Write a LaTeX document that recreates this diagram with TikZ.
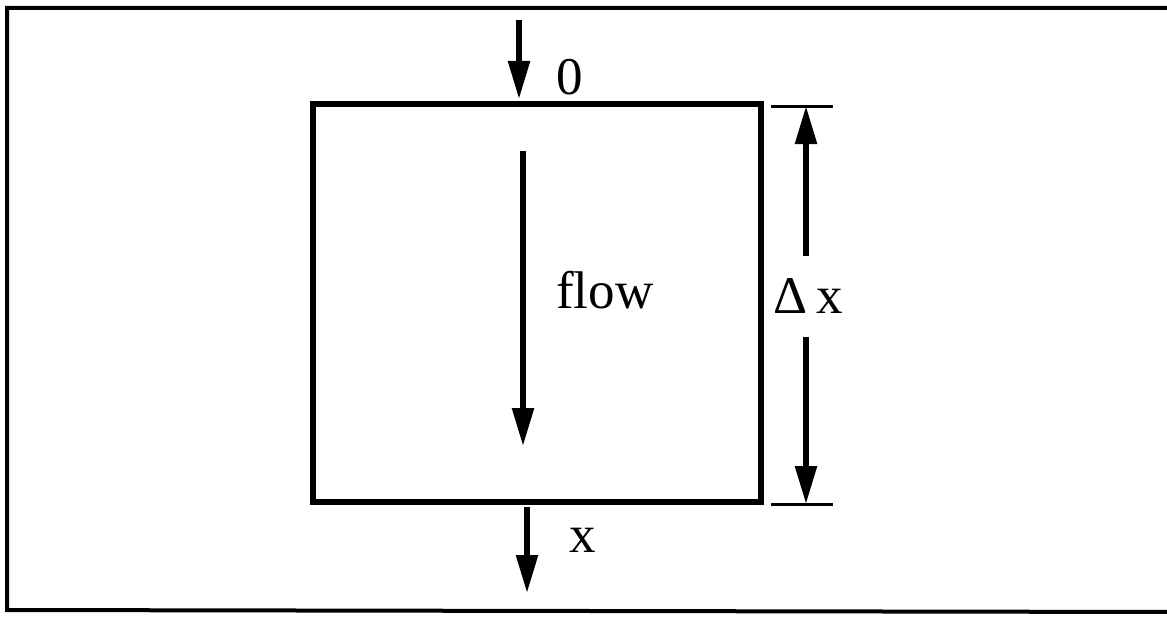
\documentclass[tikz,border=0pt]{standalone}
\usepackage{fontspec}
\setmainfont{Liberation Serif}
\usetikzlibrary{arrows.meta}
\tikzset{
  bigarrow/.style={line width=5.5pt,-{Triangle[length=38pt,width=21pt]}},
  frameline/.style={line width=4pt},
  boxline/.style={line width=5.5pt},
  tickline/.style={line width=3pt},
  lbl/.style={inner sep=0pt,font=\fontsize{53}{56}\selectfont}
}
\begin{document}
\begin{tikzpicture}[x=1pt,y=-1pt]
\useasboundingbox (0,0) rectangle (1167,618);
% outer frame (open to the right)
\draw[frameline] (1180,8) -- (7,8) -- (7,610) -- (1180,612);
% control volume
\node (box) [draw, boxline, minimum width=448pt, minimum height=398pt, inner sep=0pt] at (537,303) {};
% inflow arrow
\coordinate (inS) at (519,20);
\coordinate (inE) at (519,99);
\draw[bigarrow] (inS) -- (inE);
\node[lbl] (zero) at (570,77) {0};
% outflow arrow
\coordinate (outS) at (527,507);
\coordinate (outE) at (527,593);
\draw[bigarrow] (outS) -- (outE);
\node[lbl] (xl) at (583,540) {x};
% flow arrow
\coordinate (flS) at (523,151);
\coordinate (flE) at (523,446);
\draw[bigarrow] (flS) -- (flE);
\node[lbl, anchor=base west] (flow) at (556,308) {flow};
% dimension ticks
\coordinate (t1a) at (771,106);
\coordinate (t1b) at (833,106);
\coordinate (t2a) at (771,504);
\coordinate (t2b) at (833,504);
\draw[tickline] (t1a) -- (t1b);
\draw[tickline] (t2a) -- (t2b);
% dimension label and arrows
\node[lbl, anchor=base] (dx) at (808,313) {Δ\,x};
\coordinate (d1) at (806,256);
\coordinate (d1e) at (806,106);
\coordinate (d2) at (806,337);
\coordinate (d2e) at (806,504);
\draw[bigarrow] (d1) -- (d1e);
\draw[bigarrow] (d2) -- (d2e);
\end{tikzpicture}
\end{document}
